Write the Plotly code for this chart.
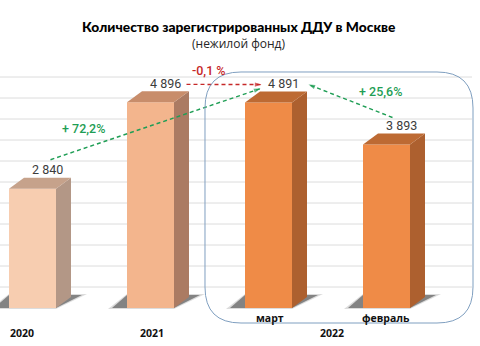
import plotly.graph_objects as go

# ---- data -------------------------------------------------------------
categories = ["2020", "2021", "март", "февраль"]
values = [2840, 4896, 4891, 3893]
value_labels = ["2 840", "4 896", "4 891", "3 893"]
group_label = "2022"
change_labels = ["+ 72,2%", "-0,1 %", "+ 25,6%"]

front_colors = ["#f7cdb0", "#f3b58d", "#ef8b47", "#ef8b47"]
side_colors = ["#b39786", "#ab7b63", "#ad602f", "#ad602f"]
top_colors = ["#c6a28b", "#c88d6b", "#bd6a33", "#bd6a33"]

# ---- canvas / scale helpers -----------------------------------------
W, H = 480, 346
PX_PER_CAT = 118.0        # horizontal pixels per category
PX_PER_UNIT = 21.0 / 500  # vertical pixels per unit
X0_PX = 32.5              # pixel x of the first category centre
Y0_PX = 308.0             # pixel y of the value 0 baseline


def ux(px):
    """horizontal pixel length -> x data length"""
    return px / PX_PER_CAT


def uy(px):
    """vertical pixel length -> y data length"""
    return px / PX_PER_UNIT


def px_to_paper(px, py):
    return px / W, 1 - py / H


BAR_W = ux(47)
HW = BAR_W / 2
DEPTH_X = ux(15)
DEPTH_Y = uy(11)

xs = list(range(len(categories)))

fig = go.Figure()

# front faces
fig.add_trace(go.Bar(
    x=xs, y=values, width=BAR_W,
    marker=dict(color=front_colors, line=dict(width=0)),
    hoverinfo="skip", showlegend=False,
))

shapes = []
for i, v in zip(xs, values):
    L, R = i - HW, i + HW
    # side face
    fig.add_trace(go.Scatter(
        x=[R, R + DEPTH_X, R + DEPTH_X, R, R],
        y=[0, DEPTH_Y, v + DEPTH_Y, v, 0],
        mode="lines", fill="toself", fillcolor=side_colors[i],
        line=dict(width=0), hoverinfo="skip", showlegend=False,
    ))
    # top face
    fig.add_trace(go.Scatter(
        x=[L, L + DEPTH_X, R + DEPTH_X, R, L],
        y=[v, v + DEPTH_Y, v + DEPTH_Y, v, v],
        mode="lines", fill="toself", fillcolor=top_colors[i],
        line=dict(width=0), hoverinfo="skip", showlegend=False,
    ))
    # floor shadow (under the bar)
    shapes.append(dict(
        type="path", xref="x", yref="y", layer="below",
        path=(f"M{L - ux(15)},{0} L{R},{0} "
              f"L{R + DEPTH_X + ux(11)},{uy(13)} L{L},{uy(13)} Z"),
        fillcolor="rgba(40,40,40,0.5)", line=dict(width=0),
    ))
    # soft outer halo of the shadow
    shapes.append(dict(
        type="path", xref="x", yref="y", layer="below",
        path=(f"M{L - ux(19)},{uy(-1)} L{R},{uy(-1)} "
              f"L{R + DEPTH_X + ux(16)},{uy(14)} L{L},{uy(14)} Z"),
        fillcolor="rgba(60,60,60,0.18)", line=dict(width=0),
    ))

# gridlines
for g in range(500, 5501, 500):
    shapes.append(dict(
        type="line", xref="paper", yref="y", layer="below",
        x0=0, x1=472 / W, y0=g, y1=g,
        line=dict(color="#dcdcdc", width=1),
    ))

# rounded frame around the 2022 bars
fl, fr, ft, fb, rad = 205, 473, 72, 323, 36
def P(px, py):
    a, b = px_to_paper(px, py)
    return f"{a:.5f},{b:.5f}"
frame_path = (
    f"M{P(fl + rad, ft)} L{P(fr - rad, ft)} Q{P(fr, ft)} {P(fr, ft + rad)} "
    f"L{P(fr, fb - rad)} Q{P(fr, fb)} {P(fr - rad, fb)} "
    f"L{P(fl + rad, fb)} Q{P(fl, fb)} {P(fl, fb - rad)} "
    f"L{P(fl, ft + rad)} Q{P(fl, ft)} {P(fl + rad, ft)} Z"
)
shapes.append(dict(type="path", xref="paper", yref="paper", path=frame_path,
                   line=dict(color="#7f9fc0", width=1)))

# value labels centred over the top faces
lab_x = [i + ux(15) for i in xs]
lab_y = [v + uy(19) for v in values]

annotations = []
for i in xs:
    annotations.append(dict(
        x=lab_x[i], y=lab_y[i], xref="x", yref="y", text=value_labels[i],
        xanchor="center", yanchor="middle", showarrow=False,
        font=dict(family="Roboto", size=12.5, color="#3c3c3c"),
    ))

# change arrows: (from label, dx px, dy px) -> (to label, dx px, dy px)
GREEN = "#1f9e55"
RED = "#c62828"
arrows = [
    ((0, 3, 10), (2, -23, -5), GREEN),
    ((1, 21, -1), (2, -22, -1), RED),
    ((3, -9, 8), (2, 25, -1), GREEN),
]
for (a, adx, ady), (b, bdx, bdy), col in arrows:
    x_a, y_a = lab_x[a] + ux(adx), lab_y[a] + uy(ady)
    x_b, y_b = lab_x[b] + ux(bdx), lab_y[b] + uy(bdy)
    fig.add_trace(go.Scatter(
        x=[x_a, x_b], y=[y_a, y_b], mode="lines",
        line=dict(color=col, width=1.4, dash="4px,3px"),
        hoverinfo="skip", showlegend=False,
    ))
    fig.add_trace(go.Scatter(
        x=[x_a, x_b], y=[y_a, y_b], mode="markers",
        marker=dict(symbol="arrow", angleref="previous", size=[0, 7],
                    color=col, line=dict(width=0)),
        hoverinfo="skip", showlegend=False,
    ))


def text_at(px, py, text, font):
    xp, yp = px_to_paper(px, py)
    annotations.append(dict(
        x=xp, y=yp, xref="paper", yref="paper", text=text, showarrow=False,
        xanchor="center", yanchor="middle", font=font,
    ))


# change labels
change_pos = [(83, 129, GREEN), (209, 70, RED), (380, 91, GREEN)]
for txt, (px, py, col) in zip(change_labels, change_pos):
    text_at(px, py, txt, dict(family="Roboto", size=12.5, color=col, weight=500))

# category labels
cat_font = dict(family="Open Sans", size=10.5, color="#111111")
cat_pos = [(21.5, 333), (151.5, 333), (270, 318), (386, 318)]
for txt, (px, py) in zip(categories, cat_pos):
    text_at(px, py, f"<b>{txt}</b>", cat_font)
text_at(331.5, 333, f"<b>{group_label}</b>", cat_font)

# title and subtitle
text_at(238, 26, "Количество зарегистрированных ДДУ в Москве",
        dict(family="Lato", size=13.8, color="#000000", weight=900))
text_at(238, 43, "(нежилой фонд)",
        dict(family="Open Sans", size=12, color="#262626"))

fig.update_layout(
    width=W, height=H, autosize=False,
    margin=dict(l=0, r=0, t=0, b=0),
    paper_bgcolor="white", plot_bgcolor="white",
    shapes=shapes, annotations=annotations,
    showlegend=False, hovermode=False,
    xaxis=dict(range=[-X0_PX / PX_PER_CAT, (W - X0_PX) / PX_PER_CAT],
               visible=False, fixedrange=True),
    yaxis=dict(range=[-(H - Y0_PX) / PX_PER_UNIT, Y0_PX / PX_PER_UNIT],
               visible=False, fixedrange=True),
)

fig.write_html("out.html")
